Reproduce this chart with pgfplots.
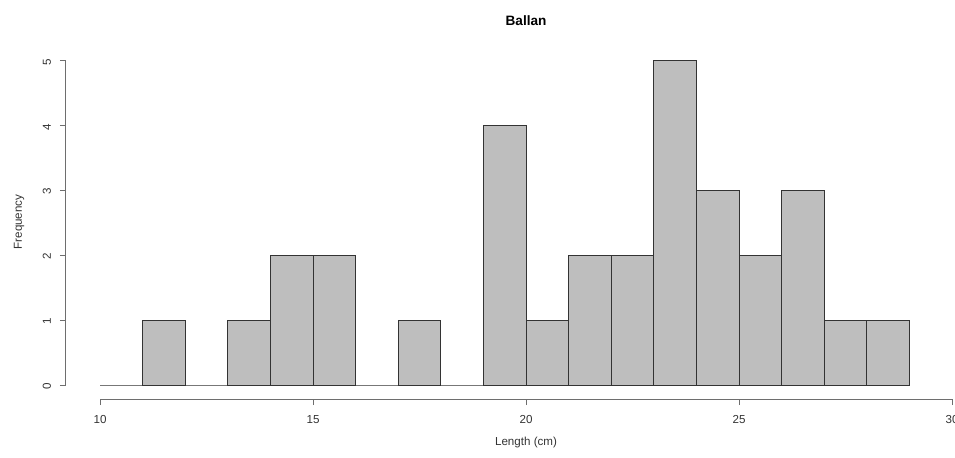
\documentclass[border=0pt]{standalone}
\usepackage{fontspec}
\setmainfont{Liberation Sans}
\usepackage{pgfplots}
\pgfplotsset{compat=1.18}
\definecolor{barfill}{RGB}{190,190,190}
\definecolor{axgray}{RGB}{110,110,110}
\begin{document}
\begin{tikzpicture}
\begin{axis}[
  scale only axis,
  width=444.5pt, height=199.5pt,
  xmin=9.2, xmax=30.07, ymin=-0.216, ymax=5.94,
  axis lines*=left,
  axis line style={draw=none},
  clip=false,
  xtick={10,15,20,25,30},
  ytick={0,1,2,3,4,5},
  tick align=outside,
  major tick length=3pt,
  tick style={axgray, line width=0.5pt},
  /pgf/number format/assume math mode=true,
  ticklabel style={font=\fontsize{5.8}{7}\selectfont, text=black!80},
  xticklabel style={yshift=-1.8pt},
  yticklabel style={rotate=90, anchor=south, yshift=1pt, xshift=-0.6pt},
]
\addplot[ybar interval, fill=barfill, draw=black!80, line width=0.5pt] coordinates {
(10,0) (11,1) (12,0) (13,1) (14,2) (15,2) (16,0) (17,1) (18,0) (19,4)
(20,1) (21,2) (22,2) (23,5) (24,3) (25,2) (26,3) (27,1) (28,1) (29,1)
};
\draw[axgray, line width=0.5pt] (axis cs:10,-0.216) -- (axis cs:30,-0.216);
\draw[axgray, line width=0.5pt] (axis cs:9.2,0) -- (axis cs:9.2,5);
\node[font=\fontsize{6.8}{8}\selectfont\bfseries] at (axis cs:20,5.62) {Ballan};
\node[font=\fontsize{5.8}{7}\selectfont, text=black!80] at (axis cs:20,-0.88) {Length (cm)};
\node[font=\fontsize{5.8}{7}\selectfont, text=black!80, rotate=90] at (axis cs:8.1,2.515) {Frequency};
\end{axis}
\pgfresetboundingbox
\useasboundingbox (-33pt,-29pt) rectangle (444.5pt,199.5pt);
\end{tikzpicture}
\end{document}
